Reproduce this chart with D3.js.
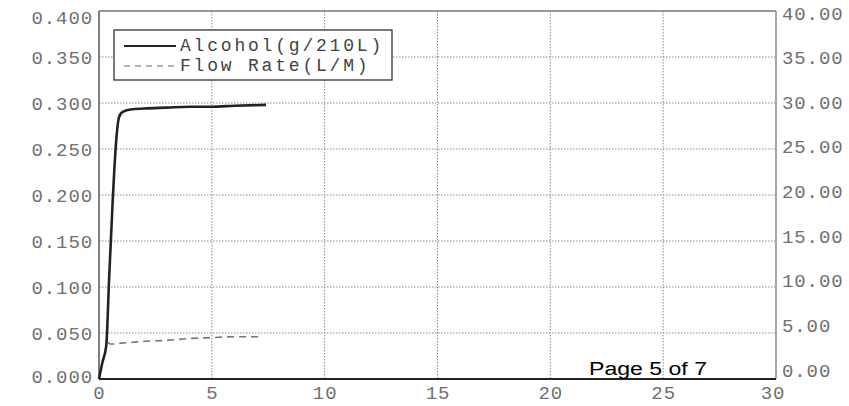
<!DOCTYPE html>
<html><head><meta charset="utf-8">
<script src="https://cdn.jsdelivr.net/npm/d3@7"></script>
<style>body{margin:0;background:#fff;} svg{display:block;}</style>
</head><body>
<svg id="c" width="849" height="406"></svg>
<script>
// Data
const xTicks = [0, 5, 10, 15, 20, 25, 30];
const yLeftTicks = [0, 0.05, 0.1, 0.15, 0.2, 0.25, 0.3, 0.35, 0.4];
const yRightTicks = [0, 5, 10, 15, 20, 25, 30, 35, 40];
const alcoholTime = [0, 0.15, 0.32, 0.45, 0.6, 0.75, 0.85, 0.95, 1.1, 1.4, 2.0, 3.0, 4.0, 5.0, 6.0, 7.4];
const alcoholVal  = [0, 0.018, 0.036, 0.11, 0.19, 0.255, 0.280, 0.288, 0.291, 0.293, 0.294, 0.295, 0.296, 0.296, 0.297, 0.298];
const flowTime = [0.4, 0.5, 0.65, 1.0, 1.5, 2.0, 3.0, 4.0, 5.0, 6.0, 7.2];
const flowVal  = [4.0, 3.8, 3.8, 3.9, 4.0, 4.1, 4.2, 4.4, 4.5, 4.6, 4.6];
const legendLabels = ["Alcohol(g/210L)", "Flow Rate(L/M)"];

const svg = d3.select("#c");
const L = 99, R = 776, T = 11, B = 379;
const x = d3.scaleLinear().domain([0, 30]).range([L, R]);
const yL = d3.scaleLinear().domain([0, 0.4]).range([B, T]);
const yR = d3.scaleLinear().domain([0, 40]).range([B, T]);
// right-hand labels sit slightly compressed in the scan
const yRLab = d3.scaleLinear().domain([0, 40]).range([B - 9, T + 2]);
const font = "'Courier New','Liberation Mono',monospace";

// grid
const g = svg.append("g");
g.selectAll("line.h").data(yLeftTicks.slice(1, -1)).join("line")
  .attr("x1", L).attr("x2", R).attr("y1", d => yL(d)).attr("y2", d => yL(d))
  .attr("stroke", "#8a8a8a").attr("stroke-width", 1).attr("stroke-dasharray", "1.5,1.5");
g.selectAll("line.v").data(xTicks.slice(1, -1)).join("line")
  .attr("y1", T).attr("y2", B).attr("x1", d => x(d)).attr("x2", d => x(d))
  .attr("stroke", "#8a8a8a").attr("stroke-width", 1).attr("stroke-dasharray", "1.5,1.5");

// frame
svg.append("line").attr("x1", L).attr("x2", R).attr("y1", T).attr("y2", T).attr("stroke", "#777").attr("stroke-width", 1.3);
svg.append("line").attr("x1", R).attr("x2", R).attr("y1", T).attr("y2", B).attr("stroke", "#777").attr("stroke-width", 1.3);
svg.append("line").attr("x1", L).attr("x2", L).attr("y1", T).attr("y2", B).attr("stroke", "#555").attr("stroke-width", 1.5);
svg.append("line").attr("x1", L).attr("x2", R).attr("y1", B).attr("y2", B).attr("stroke", "#222").attr("stroke-width", 1.8);

// axes via d3
const axL = d3.axisLeft(yL).tickValues(yLeftTicks).tickFormat(d3.format(".3f")).tickSize(0).tickPadding(6);
const axR = d3.axisRight(yRLab).tickValues(yRightTicks).tickFormat(d3.format(".2f")).tickSize(0).tickPadding(6);
const axB = d3.axisBottom(x).tickValues(xTicks).tickFormat(d3.format("d")).tickSize(0).tickPadding(7);
function style(sel) {
  sel.select(".domain").remove();
  sel.selectAll("text").attr("font-family", font).attr("font-size", 19)
    .attr("letter-spacing", "0.9px").attr("fill", "#707070");
}
const gl = svg.append("g").attr("transform", `translate(${L},0)`).call(axL).call(style);
gl.selectAll(".tick").filter(d => d === 0.4).select("text").attr("dy", "0.65em");
gl.selectAll(".tick").filter(d => d === 0).select("text").attr("dy", "0.2em");
svg.append("g").attr("transform", `translate(${R},0)`).call(axR).call(style);
svg.append("g").attr("transform", `translate(0,${B})`).call(axB).call(style)
  .selectAll(".tick").filter(d => d === 30).attr("transform", `translate(${x(30) - 3},0)`);

// lines
const alc = alcoholTime.map((t, i) => [t, alcoholVal[i]]);
const flw = flowTime.map((t, i) => [t, flowVal[i]]);
svg.append("path").datum(alc)
  .attr("d", d3.line().x(d => x(d[0])).y(d => yL(d[1])).curve(d3.curveMonotoneX))
  .attr("fill", "none").attr("stroke", "#222").attr("stroke-width", 2.6).attr("stroke-linejoin", "round");
svg.append("path").datum(flw)
  .attr("d", d3.line().x(d => x(d[0])).y(d => yR(d[1])).curve(d3.curveMonotoneX))
  .attr("fill", "none").attr("stroke", "#777").attr("stroke-width", 1.6).attr("stroke-dasharray", "7,5");

// legend
const lg = svg.append("g");
lg.append("rect").attr("x", 114).attr("y", 30).attr("width", 278).attr("height", 50)
  .attr("fill", "#fff").attr("stroke", "#333").attr("stroke-width", 1.3);
lg.append("line").attr("x1", 124).attr("x2", 176).attr("y1", 46).attr("y2", 46).attr("stroke", "#222").attr("stroke-width", 2.2);
lg.append("line").attr("x1", 124).attr("x2", 176).attr("y1", 66).attr("y2", 66).attr("stroke", "#666").attr("stroke-width", 1.2).attr("stroke-dasharray", "6,5");
lg.selectAll("text").data(legendLabels).join("text")
  .attr("x", 180).attr("y", (d, i) => 51 + i * 20)
  .attr("font-family", font).attr("font-size", 18).attr("letter-spacing", "2.8px").attr("fill", "#444")
  .text(d => d);

// page overlay text
svg.append("text").attr("x", 589).attr("y", 375).attr("font-family", "Arial,'Liberation Sans',sans-serif")
  .attr("font-size", 18).attr("textLength", 118).attr("lengthAdjust", "spacingAndGlyphs")
  .attr("fill", "#000").text("Page 5 of 7");
</script>
</body></html>
